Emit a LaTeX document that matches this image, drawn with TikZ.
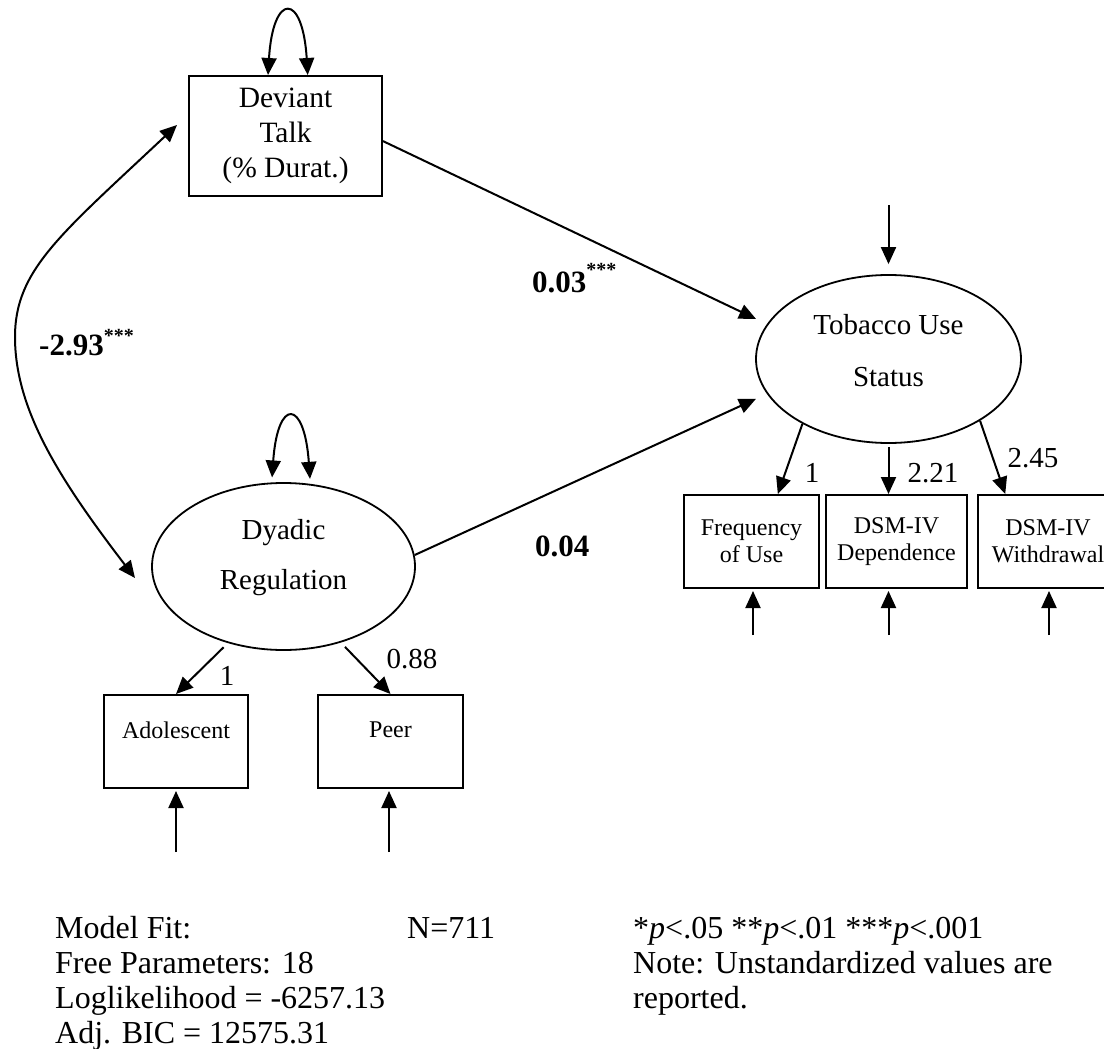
\documentclass[tikz,border=0pt]{standalone}
\usepackage{fontspec}
\setmainfont{Liberation Serif}
\usetikzlibrary{arrows.meta,shapes.geometric}
\begin{document}
\begin{tikzpicture}[x=1pt,y=-1pt,
  tip/.tip={Triangle[length=17pt,width=15pt]},
  arr/.style={-tip,line width=2pt},
  darr/.style={tip-tip,line width=2pt},
  obs/.style={draw,line width=2pt,rectangle,inner sep=0pt},
  lat/.style={draw,line width=1.8pt,ellipse,inner sep=0pt},
  lbl/.style={font=\fontsize{29}{35}\selectfont,align=center,inner sep=0pt},
  small/.style={font=\fontsize{24}{27}\selectfont,align=center},
  num/.style={font=\fontsize{29}{29}\selectfont,inner sep=0pt},
  coef/.style={font=\fontsize{31}{31}\selectfont\bfseries,inner sep=0pt,anchor=base west},
  btxt/.style={font=\fontsize{32}{35}\selectfont,inner sep=0pt,anchor=base west}]
\useasboundingbox[fill=white] (0,0) rectangle (1104,1049);
\clip (0,0) rectangle (1104,1049);

% latent and observed nodes
\node[obs,minimum width=193pt,minimum height=120pt,align=center,font=\fontsize{29.5}{35}\selectfont] (dev) at (285.5,136) {Deviant\\Talk\\(\% Durat.)};
\node[lat,minimum width=265pt,minimum height=168pt] (tob) at (888.5,359) {};
\node[lbl,font=\fontsize{29}{52}\selectfont] (tobtxt) at (888.5,351) {Tobacco Use\\Status};
\node[lat,minimum width=263pt,minimum height=167pt] (dya) at (283.5,566.5) {};
\node[lbl,font=\fontsize{29}{50}\selectfont] (dyatxt) at (283.5,558) {Dyadic\\Regulation};

\node[obs,small,minimum width=135pt,minimum height=93pt] (freq) at (751.5,541.5) {Frequency\\of Use};
\node[obs,small,minimum width=141pt,minimum height=93pt] (dep) at (896.5,541.5) {DSM-IV\\Dependence};
\node[obs,small,minimum width=140pt,minimum height=93pt] (wd) at (1048,541.5) {DSM-IV\\Withdrawal};

\node[obs,minimum width=144pt,minimum height=93pt] (adol) at (176,741.5) {};
\node[small] (adoltxt) at (176,730) {Adolescent};
\node[obs,minimum width=145pt,minimum height=93pt] (peer) at (390.5,741.5) {};
\node[small] (peertxt) at (390.5,730) {Peer};

% structural paths
\draw[arr,shorten >=12pt] (dev.-3) -- (tob.164.5);
\draw[arr,shorten >=12pt] (dya.5) -- (tob.-164.9);

% loadings
\draw[arr] (tob.-143.3) -- (freq.61.3);
\draw[arr,shorten <=3pt] (tob.south) -- (tob.south |- dep.north);
\draw[arr] (tob.-34.1) -- (wd.132.1);
\draw[arr,shorten <=6pt] (dya.-126.6) -- (adol.north);
\draw[arr,shorten <=6pt] (dya.-53.9) -- (peer.north);

% variances
\draw[darr] (dev.106.3) .. controls +(5,-83) and +(-5,-83) .. (dev.70.3);
\draw[darr,shorten <=5pt,shorten >=5pt] (dya.98.6) .. controls +(6,-85) and +(-6,-85) .. (dya.72.3);

% covariance
\coordinate (cvtop) at (177,125);
\coordinate (cvmid) at (15,337);
\coordinate (cvbot) at (135,578);
\draw[darr] (cvtop) .. controls +(-117,110) and +(0,-67) .. (cvmid) .. controls +(0,73) and +(-75,-98) .. (cvbot);

% residual arrows
\coordinate (etob) at (888.5,205);
\draw[arr,shorten >=10pt] (etob) -- (tob.north);
\coordinate (efreq) at (753,635);
\draw[arr,shorten >=2pt] (efreq) -- (efreq |- freq.south);
\coordinate (edep) at (888.5,635);
\draw[arr,shorten >=2pt] (edep) -- (edep |- dep.south);
\coordinate (ewd) at (1049,635);
\draw[arr,shorten >=2pt] (ewd) -- (ewd |- wd.south);
\coordinate (eadol) at (176,852);
\draw[arr,shorten >=2pt] (eadol) -- (adol.south);
\coordinate (epeer) at (389,852);
\draw[arr,shorten >=2pt] (epeer) -- (epeer |- peer.south);

% numeric labels
\node[num] (l1) at (812,473) {1};
\node[num] (l221) at (933,473) {2.21};
\node[num] (l245) at (1033,458) {2.45};
\node[num] (l1b) at (227,676) {1};
\node[num] (l088) at (412,659) {0.88};

\node[coef] (c003) at (532,292) {0.03\raisebox{16pt}{\fontsize{20}{20}\selectfont ***}};
\node[coef] (c004) at (535,556) {0.04};
\node[coef] (c293) at (39,355) {-2.93\raisebox{12.5pt}{\fontsize{20}{20}\selectfont ***}};

% bottom text
\node[btxt] (fit1) at (55,938) {Model Fit:};
\node[btxt] (fit2) at (55,973) {Free Parameters: 18};
\node[btxt] (fit3) at (55,1008) {Loglikelihood = -6257.13};
\node[btxt] (fit4) at (55,1043) {Adj. BIC = 12575.31};
\node[btxt] (nn) at (407,938) {N=711};
\node[btxt] (sig) at (633,938) {*\textit{p}<.05 **\textit{p}<.01 ***\textit{p}<.001};
\node[btxt] (note1) at (633,973) {Note: Unstandardized values are};
\node[btxt] (note2) at (633,1008) {reported.};
\end{tikzpicture}
\end{document}
